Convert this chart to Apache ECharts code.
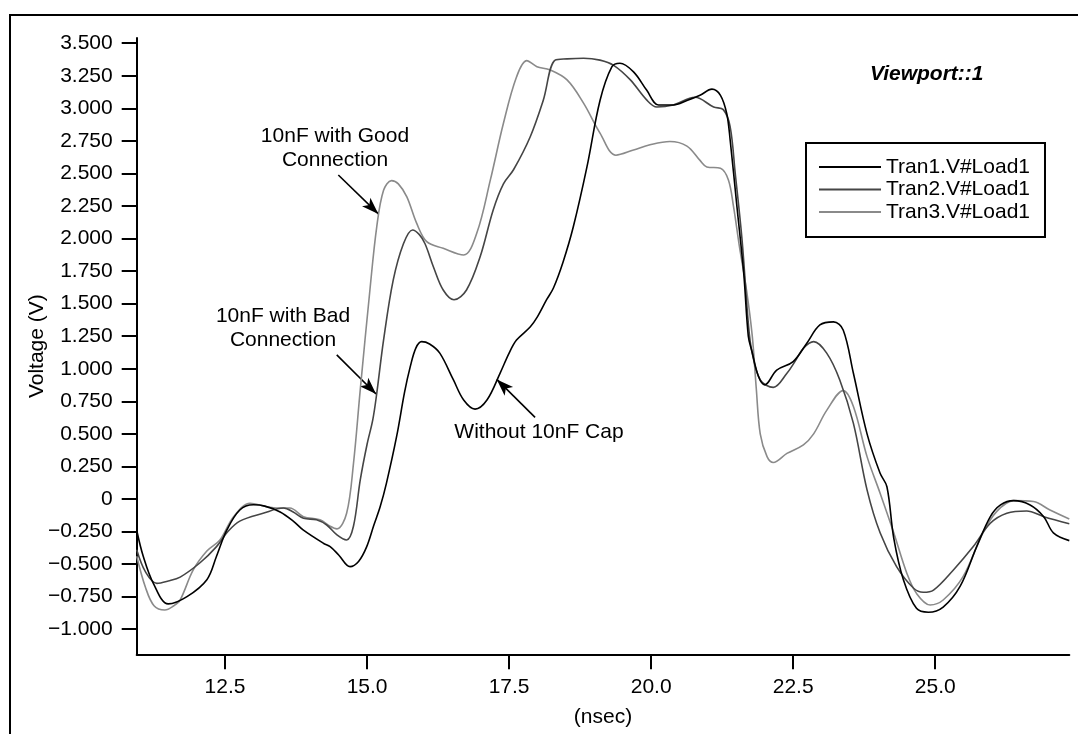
<!DOCTYPE html>
<html><head><meta charset="utf-8">
<script src="https://cdn.jsdelivr.net/npm/echarts@6/dist/echarts.min.js"></script>
<style>html,body{margin:0;padding:0;background:#fff}#c{width:1078px;height:734px}</style>
</head><body><div id="c"></div>
<script>
// ---- data (time in nsec, voltage in V) ----
const seriesNames = ['Tran1.V#Load1', 'Tran2.V#Load1', 'Tran3.V#Load1'];
const tran1 = [[10.945,-0.24],[11.06,-0.44],[11.24,-0.65],[11.5,-0.806],[11.83,-0.75],[12.18,-0.62],[12.35,-0.44],[12.53,-0.24],[12.76,-0.085],[13.0,-0.045],[13.2,-0.055],[13.47,-0.1],[13.7,-0.17],[13.88,-0.24],[14.23,-0.34],[14.35,-0.366],[14.5,-0.43],[14.7,-0.52],[14.85,-0.48],[14.99,-0.37],[15.12,-0.2],[15.23,-0.06],[15.34,0.12],[15.52,0.48],[15.66,0.82],[15.76,1.016],[15.86,1.16],[15.96,1.208],[16.10,1.19],[16.28,1.12],[16.52,0.914],[16.70,0.76],[16.90,0.69],[17.11,0.76],[17.34,0.965],[17.50,1.12],[17.63,1.22],[17.87,1.32],[18.0,1.40],[18.16,1.53],[18.28,1.62],[18.45,1.82],[18.63,2.09],[18.87,2.55],[19.10,3.06],[19.31,3.32],[19.45,3.346],[19.69,3.28],[19.92,3.14],[20.13,3.026],[20.39,3.026],[20.63,3.06],[20.86,3.10],[21.07,3.147],[21.22,3.10],[21.33,2.96],[21.39,2.76],[21.51,2.245],[21.63,1.73],[21.71,1.25],[21.77,1.14],[21.89,0.94],[22.0,0.876],[22.21,0.99],[22.50,1.055],[22.74,1.196],[22.97,1.336],[23.21,1.36],[23.38,1.298],[23.56,0.965],[23.80,0.50],[24.03,0.197],[24.15,0.094],[24.27,-0.3],[24.44,-0.62],[24.67,-0.84],[24.88,-0.87],[25.14,-0.83],[25.44,-0.67],[25.73,-0.366],[25.97,-0.136],[26.15,-0.046],[26.38,-0.013],[26.67,-0.046],[26.91,-0.136],[27.08,-0.26],[27.36,-0.32]];
const tran2 = [[10.945,-0.39],[11.1,-0.56],[11.30,-0.648],[11.50,-0.63],[11.71,-0.6],[12.06,-0.49],[12.35,-0.366],[12.55,-0.25],[12.76,-0.17],[13.17,-0.11],[13.53,-0.07],[13.70,-0.1],[13.88,-0.148],[14.11,-0.16],[14.29,-0.2],[14.47,-0.276],[14.64,-0.315],[14.76,-0.21],[14.88,0.146],[15.0,0.42],[15.10,0.607],[15.17,0.81],[15.29,1.22],[15.46,1.68],[15.64,1.96],[15.80,2.066],[15.92,2.03],[16.02,1.96],[16.17,1.78],[16.34,1.605],[16.53,1.53],[16.75,1.605],[16.99,1.86],[17.22,2.22],[17.40,2.42],[17.58,2.53],[17.87,2.78],[18.10,3.06],[18.31,3.37],[18.52,3.38],[18.81,3.385],[19.10,3.37],[19.34,3.33],[19.63,3.22],[19.92,3.065],[20.10,3.01],[20.39,3.026],[20.77,3.085],[21.10,3.01],[21.27,2.99],[21.39,2.86],[21.48,2.50],[21.60,1.99],[21.71,1.35],[21.77,1.14],[21.92,0.914],[22.15,0.857],[22.39,0.965],[22.53,1.055],[22.68,1.157],[22.86,1.208],[23.09,1.12],[23.32,0.914],[23.56,0.58],[23.80,0.07],[24.03,-0.26],[24.32,-0.52],[24.62,-0.686],[24.79,-0.717],[24.97,-0.7],[25.32,-0.545],[25.67,-0.366],[25.97,-0.187],[26.26,-0.11],[26.61,-0.092],[26.91,-0.136],[27.36,-0.19]];
const tran3 = [[10.945,-0.44],[11.1,-0.68],[11.25,-0.82],[11.44,-0.853],[11.6,-0.82],[11.71,-0.776],[11.94,-0.545],[12.18,-0.40],[12.41,-0.315],[12.65,-0.136],[12.94,-0.033],[13.23,-0.06],[13.45,-0.07],[13.64,-0.07],[13.88,-0.136],[14.17,-0.16],[14.35,-0.21],[14.47,-0.23],[14.64,-0.11],[14.76,0.27],[14.88,0.84],[15.05,1.605],[15.17,2.09],[15.29,2.37],[15.43,2.445],[15.55,2.42],[15.70,2.32],[15.87,2.12],[16.05,1.976],[16.34,1.925],[16.70,1.874],[16.93,2.04],[17.17,2.45],[17.40,2.885],[17.63,3.24],[17.81,3.366],[17.99,3.32],[18.22,3.295],[18.52,3.218],[18.81,3.04],[19.10,2.81],[19.38,2.64],[19.69,2.68],[19.98,2.72],[20.33,2.745],[20.63,2.71],[20.86,2.60],[20.98,2.55],[21.22,2.54],[21.36,2.45],[21.45,2.245],[21.55,1.95],[21.68,1.6],[21.78,1.25],[21.85,0.85],[21.92,0.5],[22.04,0.325],[22.15,0.28],[22.39,0.35],[22.68,0.415],[22.86,0.50],[23.09,0.68],[23.38,0.832],[23.56,0.71],[23.80,0.325],[24.03,0.044],[24.27,-0.26],[24.50,-0.57],[24.67,-0.725],[24.91,-0.814],[25.14,-0.776],[25.49,-0.597],[25.84,-0.26],[26.08,-0.097],[26.38,-0.013],[26.73,-0.02],[27.02,-0.085],[27.36,-0.154]];
const xTicks = [12.5, 15.0, 17.5, 20.0, 22.5, 25.0];
const yTicks = [-1.0,-0.75,-0.5,-0.25,0,0.25,0.5,0.75,1.0,1.25,1.5,1.75,2.0,2.25,2.5,2.75,3.0,3.25,3.5];
// annotation arrows: [from, to] in data units
const arrows = [
  [[14.494, 2.488], [15.199, 2.189]],
  [[14.466, 1.106], [15.158, 0.806]],
  [[17.957, 0.627], [17.283, 0.918]]
];
const notes = ['10nF with Good\nConnection', '10nF with Bad\nConnection', 'Without 10nF Cap'];

const FONT = '"Liberation Sans", Arial, Helvetica, sans-serif';
const colors = ['#000000', '#454545', '#8a8a8a'];
const chart = echarts.init(document.getElementById('c'), null, {renderer: 'canvas'});
const fmtY = v => v === 0 ? '0' : (v < 0 ? '\u2212' : '') + Math.abs(v).toFixed(3);
const allData = [tran1, tran2, tran3];

chart.setOption({
  animation: false,
  backgroundColor: '#fff',
  grid: {left: 136.7, right: 8.7, top: 38, bottom: 79.7, containLabel: false},
  legend: {
    orient: 'vertical', left: 806, top: 143,
    data: seriesNames.map(n => ({name: n, icon: 'rect'})),
    borderColor: '#000', borderWidth: 2, padding: [13, 15, 14, 13],
    itemWidth: 62, itemHeight: 2, itemGap: 0.5,
    textStyle: {fontFamily: FONT, fontSize: 21, color: '#000', lineHeight: 22},
    selectedMode: false
  },
  xAxis: {
    type: 'value', min: 10.945, max: 27.36,
    name: '(nsec)', nameLocation: 'middle', nameGap: 52, nameMoveOverlap: false,
    nameTextStyle: {fontFamily: FONT, fontSize: 21, color: '#000'},
    axisLine: {show: true, onZero: false, lineStyle: {color: '#000', width: 2}},
    axisTick: {show: true, inside: false, length: 15, lineStyle: {color: '#000', width: 2}, customValues: xTicks},
    axisLabel: {customValues: xTicks, margin: 22, fontFamily: FONT, fontSize: 21, color: '#000', formatter: v => v.toFixed(1)},
    splitLine: {show: false}
  },
  yAxis: {
    type: 'value', min: -1.193, max: 3.54,
    name: 'Voltage (V)', nameLocation: 'middle', nameGap: 89, nameRotate: 90, nameMoveOverlap: false,
    nameTextStyle: {fontFamily: FONT, fontSize: 21, color: '#000'},
    axisLine: {show: true, onZero: false, lineStyle: {color: '#000', width: 2}},
    axisTick: {show: true, inside: false, length: 15, lineStyle: {color: '#000', width: 2}, customValues: yTicks},
    axisLabel: {customValues: yTicks, margin: 24, fontFamily: FONT, fontSize: 21, color: '#000', formatter: fmtY},
    splitLine: {show: false}
  },
  series: seriesNames.map((n, i) => ({
    name: n, type: 'line', data: allData[i],
    showSymbol: false, symbol: 'none', smooth: 0.35,
    lineStyle: {color: colors[i], width: 1.6}, itemStyle: {color: colors[i]},
    z: 10 - i,
    markLine: i === 0 ? {
      silent: true, symbol: ['none', 'arrow'], symbolSize: [9, 17],
      lineStyle: {color: '#000', width: 1.6, type: 'solid'},
      label: {show: false},
      data: arrows.map(a => [{coord: a[0]}, {coord: a[1]}])
    } : undefined
  })),
  graphic: [
    {type: 'rect', z: -1, shape: {x: 10, y: 15, width: 1200, height: 900}, style: {fill: 'none', stroke: '#000', lineWidth: 2}},
    {type: 'text', x: 926.7, y: 64, style: {text: 'Viewport::1', fill: '#000', font: 'italic bold 21px ' + FONT, align: 'center', verticalAlign: 'top'}},
    {type: 'text', x: 335, y: 124.5, style: {text: notes[0], fill: '#000', font: '21px ' + FONT, align: 'center', verticalAlign: 'top', lineHeight: 24}},
    {type: 'text', x: 283, y: 304.5, style: {text: notes[1], fill: '#000', font: '21px ' + FONT, align: 'center', verticalAlign: 'top', lineHeight: 24}},
    {type: 'text', x: 539, y: 421.5, style: {text: notes[2], fill: '#000', font: '21px ' + FONT, align: 'center', verticalAlign: 'top'}}
  ]
});
</script></body></html>
